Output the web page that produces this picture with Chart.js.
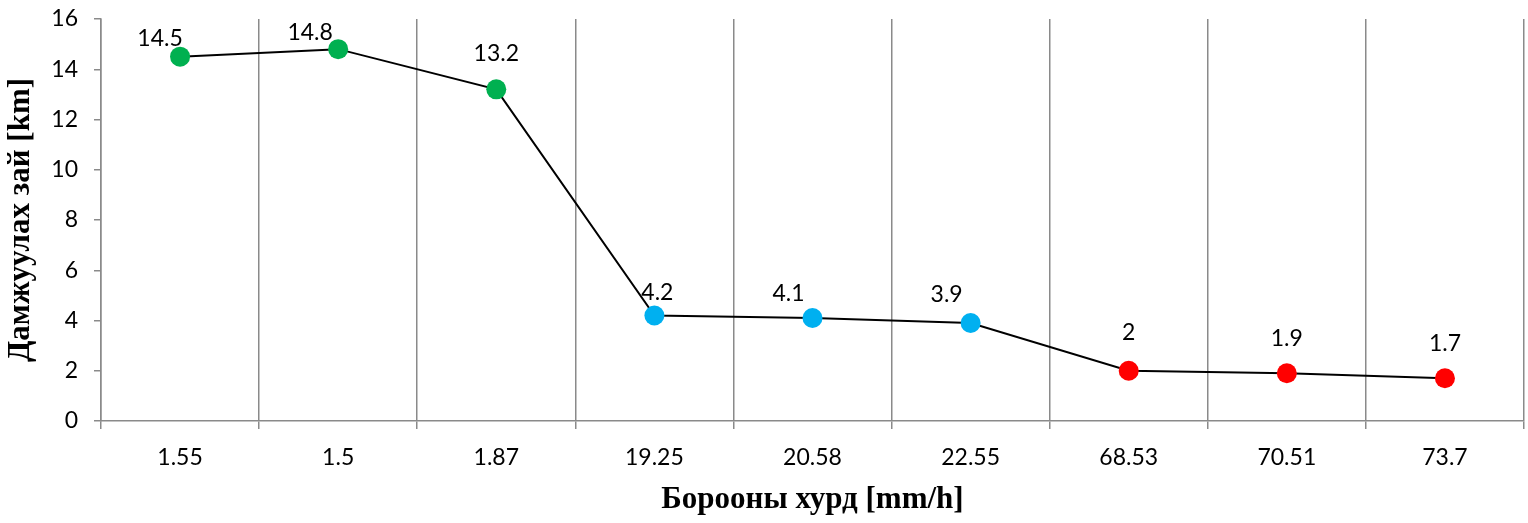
<!DOCTYPE html>
<html>
<head>
<meta charset="utf-8">
<script src="https://cdn.jsdelivr.net/npm/chart.js@4/dist/chart.umd.min.js"></script>
<style>
  html, body { margin: 0; padding: 0; background: #fff; overflow: hidden; }
  #wrap { width: 1534px; height: 523px; }
</style>
</head>
<body>
<div id="wrap"><canvas id="rainChart"></canvas></div>
<script>
// rain rate categories (mm/h) and transmission distance (km)
const rainRates = ['1.55', '1.5', '1.87', '19.25', '20.58', '22.55', '68.53', '70.51', '73.7'];
const distances = [14.5, 14.8, 13.2, 4.2, 4.1, 3.9, 2, 1.9, 1.7];
const yTicks = [0, 2, 4, 6, 8, 10, 12, 14, 16];

// colour per group of points
const pointColors = [
  '#00B050', '#00B050', '#00B050',
  '#00B0F0', '#00B0F0', '#00B0F0',
  '#FF0000', '#FF0000', '#FF0000'
];

// where each value label sits relative to its point (dx, dy)
const labelOffsets = [
  [-20, -18], [-28, -17], [0, -36],
  [3, -23], [-24, -24], [-24, -28],
  [0, -38], [0, -35], [0, -35]
];

const tickFont = { family: 'Lato', size: 23 };
const titleFont = { family: 'Liberation Serif', size: 31, weight: 'bold' };
const gridColor = '#8a8a8a';

const valueLabels = {
  id: 'valueLabels',
  afterDatasetsDraw(chart) {
    const ctx = chart.ctx;
    const meta = chart.getDatasetMeta(0);
    ctx.save();
    ctx.font = '23px Lato';
    ctx.fillStyle = '#000';
    ctx.textAlign = 'center';
    ctx.textBaseline = 'middle';
    meta.data.forEach((pt, i) => {
      const off = labelOffsets[i];
      ctx.fillText(String(distances[i]), pt.x + off[0], pt.y + off[1]);
    });
    ctx.restore();
  }
};

new Chart(document.getElementById('rainChart'), {
  type: 'line',
  data: {
    labels: rainRates,
    datasets: [{
      data: distances,
      borderColor: '#000',
      borderWidth: 2,
      pointRadius: 10,
      pointHoverRadius: 10,
      pointBorderWidth: 0,
      pointBackgroundColor: pointColors,
      pointBorderColor: pointColors,
      tension: 0
    }]
  },
  options: {
    responsive: true,
    maintainAspectRatio: false,
    animation: false,
    layout: { padding: { top: 1, right: 4, left: 0, bottom: 0 } },
    plugins: {
      legend: { display: false },
      tooltip: { enabled: false }
    },
    scales: {
      x: {
        offset: true,
        afterFit(scale) {
          scale.height = 102;
          scale.paddingLeft = 0;
          scale.paddingRight = 0;
        },
        grid: {
          offset: true,
          color: gridColor,
          lineWidth: 1.5,
          drawTicks: true,
          tickLength: 8
        },
        border: { color: gridColor, width: 1.5 },
        ticks: { font: tickFont, color: '#000', padding: 15, maxRotation: 0 },
        title: {
          display: true,
          text: 'Борооны хурд [mm/h]',
          font: titleFont,
          color: '#000',
          padding: { top: 8, bottom: 4 }
        }
      },
      y: {
        min: 0,
        max: 16,
        afterBuildTicks(scale) {
          scale.ticks = yTicks.map(v => ({ value: v }));
        },
        afterFit(scale) {
          scale.width = 101;
          scale.paddingTop = 19;
        },
        grid: {
          drawOnChartArea: false,
          drawTicks: true,
          tickLength: 7,
          color: gridColor,
          lineWidth: 1.5
        },
        border: { color: gridColor, width: 1.5 },
        ticks: { font: tickFont, color: '#000', padding: 16 },
        title: {
          display: true,
          text: 'Дамжуулах зай [km]',
          font: titleFont,
          color: '#000',
          padding: { top: 2, bottom: 0 }
        }
      }
    }
  },
  plugins: [valueLabels]
});
</script>
</body>
</html>
